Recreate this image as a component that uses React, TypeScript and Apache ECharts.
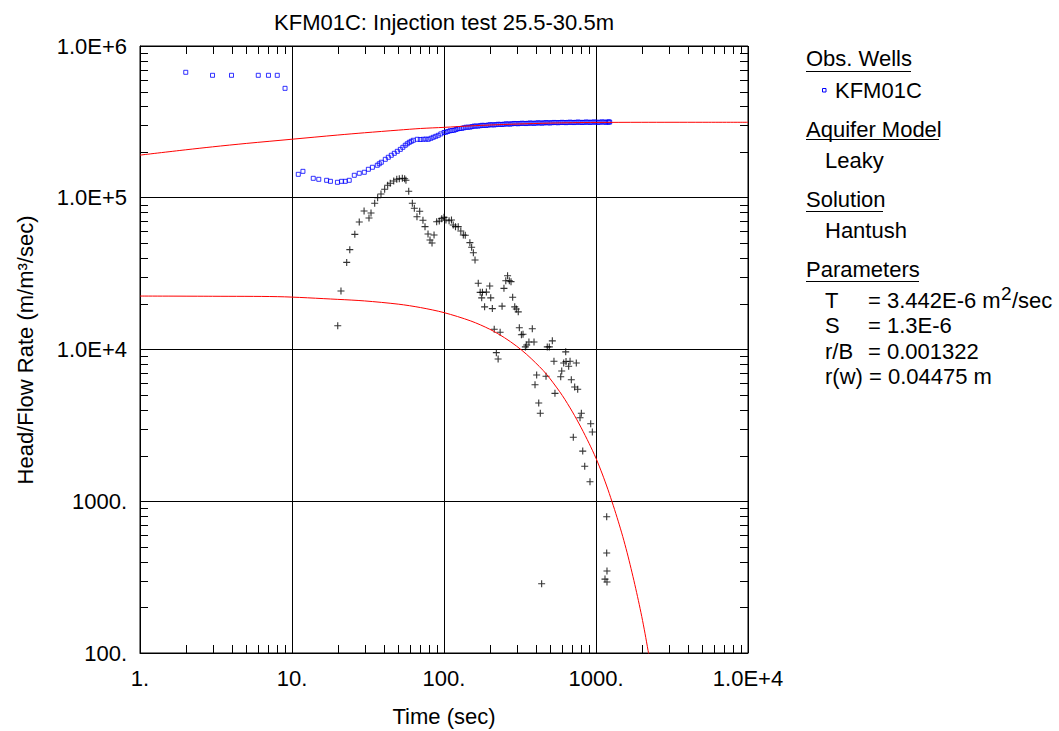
import React, { useEffect, useRef } from "react";
import * as echarts from "echarts";

const TITLE = "KFM01C: Injection test 25.5-30.5m";
const X_NAME = "Time (sec)";
const Y_NAME = "Head/Flow Rate (m/m³/sec)";
const X_MIN = 1;
const X_MAX = 10000;
const Y_MIN = 100;
const Y_MAX = 1000000;
// labels indexed by decade exponent
const X_TICK_LABELS: Record<number, string> = { 0: "1.", 1: "10.", 2: "100.", 3: "1000.", 4: "1.0E+4" };
const Y_TICK_LABELS: Record<number, string> = { 2: "100.", 3: "1000.", 4: "1.0E+4", 5: "1.0E+5", 6: "1.0E+6" };
const X_MINOR = [2, 3, 4, 5, 6, 7, 8, 9, 20, 30, 40, 50, 60, 70, 80, 90, 200, 300, 400, 500, 600, 700, 800, 900, 2000, 3000, 4000, 5000, 6000, 7000, 8000, 9000];
const Y_MINOR = [200, 300, 400, 500, 600, 700, 800, 900, 2000, 3000, 4000, 5000, 6000, 7000, 8000, 9000, 20000, 30000, 40000, 50000, 60000, 70000, 80000, 90000, 200000, 300000, 400000, 500000, 600000, 700000, 800000, 900000];

// Observed head/flow rate (blue squares)
const obsPoints: [number, number][] = [
  [2, 671000], [3, 641000], [4, 641000], [6, 641000], [7, 641000], [8, 641000], [9, 526000],
  [11.0, 142700], [11.8, 149300], [13.8, 134300], [15.0, 132300], [16.9, 130300], [17.9, 128300],
  [19.9, 126400], [21.2, 128300], [22.4, 128300], [23.8, 130300], [25.7, 140600], [27.7, 145000],
  [29.9, 147200], [31.8, 154000], [33.8, 158800], [36.4, 163700], [37.5, 167500], [38.7, 171400],
  [41.1, 179200], [43.0, 184800], [45.0, 190500], [47.1, 196300], [49.3, 202300], [51.6, 208400],
  [53.6, 215000], [55.6, 221700], [57.3, 226800], [59.1, 231900], [60.9, 235500], [62.8, 239200],
  [66.7, 242800], [69.8, 242000], [73.0, 242800], [75.9, 243500], [78.8, 242800], [82.0, 246500],
  [85.0, 250300], [88.3, 254000], [91.7, 257900], [95.3, 263500],
  [100, 269200], [103, 270500], [106, 273300], [109.5, 276500], [113, 277500], [116.5, 278500],
  [120, 281800], [123.5, 284900], [127, 286000], [131, 286500], [135, 289100], [139.5, 291500],
  [144, 291700], [148.5, 292000], [153, 294400], [157.5, 296500], [162, 296700], [167.5, 296600],
  [173, 298500], [178, 300100], [183, 299800], [189, 299500], [195, 301200], [201, 302800],
  [207, 302500], [213.5, 302000], [220, 303400], [227, 304900], [234, 304400], [241, 303900],
  [248, 305300], [256, 306800], [264, 306200], [272, 305700], [280, 307200], [289, 308600],
  [298, 308100], [307, 307400], [316, 308600], [326, 309800], [336, 309000], [346.5, 308300],
  [357, 309500], [368, 310800], [379, 310000], [391, 309200], [403, 310400], [415.5, 311700],
  [428, 310900], [441.5, 310200], [455, 311400], [469, 312600], [483, 311800], [498, 311100],
  [513, 312300], [529.5, 313600], [546, 312800], [563, 312000], [580, 313200], [598, 314200],
  [616, 313200], [635, 312500], [654, 313700], [674.5, 314700], [695, 313700], [717, 313000],
  [739, 314200], [762, 315200], [785, 314200], [809.5, 313200], [834, 314200], [860, 315400],
  [886, 314700], [913.5, 313700], [941, 314700], [970.5, 315700], [1000, 314700], [1031, 313700],
  [1062, 314700], [1095, 316000], [1129, 315200], [1164, 314200], [1199, 315200], [1215, 316000],
  [1230, 315200],
];

// Derivative (black crosses)
const derivPoints: [number, number][] = [
  [20.0, 14350], [21.0, 24300], [22.9, 37500], [24.0, 45500], [25.9, 57400], [27.7, 69200],
  [29.8, 81800], [32.1, 73600], [33.1, 79300], [35.0, 91900], [36.6, 100100], [38.5, 105900],
  [40.7, 113700], [42.6, 120800], [44.3, 124500], [46.7, 128900], [48.9, 132300], [50.8, 133500],
  [53.2, 134300], [55.1, 133500], [56.2, 130300], [58.6, 110300], [61.9, 91900], [63.8, 85200],
  [66.4, 75000], [69.2, 81400], [72.7, 71000], [75.0, 64500], [78.5, 57700], [80.9, 52700],
  [83.4, 50300], [86.0, 56800], [89.5, 69500], [93.1, 70300], [96.6, 72800], [100, 74300],
  [103, 71400], [108, 70600], [112, 71400], [115, 66100], [119, 64500], [124, 64500],
  [129, 60400], [134, 56800], [138, 56600], [148, 50600], [152, 47200], [156, 43400],
  [160, 38900], [168, 27300], [173, 23800], [177, 21900], [179, 23800], [185, 19100],
  [190, 23900], [200, 26200], [203, 21900], [208, 18600], [214, 13600], [221, 9530],
  [227, 8660], [234, 13000], [241, 19300], [248, 25300], [255, 28400], [262, 30600],
  [269, 28400], [276, 28000], [283, 22100], [292, 19100], [299, 18500], [308, 17700],
  [313, 13900], [323, 12500], [331, 12600], [343, 10400], [350, 10700], [362, 11200],
  [381, 13700], [391, 11200], [397, 5860], [407, 6790], [420, 4440], [430, 3800],
  [439, 286], [469, 6660], [478, 10400], [493, 10400], [516, 11400], [529, 8360],
  [537, 5140], [586, 6620], [595, 7220], [613, 8150], [632, 9650], [635, 8330],
  [661, 7750], [675, 8360], [688, 6320], [709, 2640], [724, 5660], [742, 8150],
  [758, 5470], [785, 3550], [801, 3800], [818, 2140], [843, 1700], [913, 1345],
  [923, 3240], [946, 2860], [1146, 307], [1176, 791], [1176, 456], [1181, 347], [1181, 294],
];

// Hantush type curve (upper red)
const fitCurve: [number, number][] = [
  [1, 191000], [2, 207000], [3, 216500], [5, 228000], [10, 243000], [20, 259000], [30, 268000],
  [50, 279000], [70, 286000], [100, 291000], [150, 297500], [200, 301500], [300, 306000],
  [500, 310500], [700, 312500], [1000, 313500], [2000, 314200], [5000, 314300], [10000, 314300],
];

// Hantush derivative curve (lower red)
const fitDerivCurve: [number, number][] = [
  [1, 22500], [3, 22430], [8, 22300], [20, 21400], [30, 20900], [50, 19900], [70, 18900],
  [100, 17500], [150, 15420], [200, 13600], [250, 11960], [300, 10530], [350, 9280],
  [400, 8180], [450, 7260], [500, 6400], [600, 4980], [700, 3880], [800, 3045], [900, 2410],
  [1000, 1920], [1100, 1512], [1200, 1190], [1300, 935], [1400, 739], [1500, 585], [1600, 461],
  [1700, 361], [1800, 283], [1900, 222], [2000, 174], [2100, 135], [2200, 104], [2300, 81],
];

const PARAM_NAMES = ["T", "S", "r/B"];
const PARAM_VALUES = ["= 3.442E-6 m", "= 1.3E-6", "= 0.001322"];
const PARAM_LAST = "r(w) = 0.04475 m";

const FONT = '"Liberation Sans", Arial, Helvetica, sans-serif';
const FS = 22;
const TL = 8;
const GRID = { left: 140, top: 46, width: 608, height: 607 };

function txt(x: number, y: number, s: string, opts: any = {}) {
  const align = opts.align || "left";
  return {
    type: "text",
    x,
    y,
    rotation: opts.rotation || 0,
    silent: true,
    style: {
      text: s,
      fontSize: opts.size || FS,
      fontFamily: FONT,
      fill: "#000",
      align,
      textAlign: align,
      verticalAlign: "middle",
      textVerticalAlign: "middle",
    },
  };
}

function seg(x1: number, y1: number, x2: number, y2: number) {
  return {
    type: "line",
    silent: true,
    z: 100,
    shape: { x1, y1, x2, y2 },
    style: { stroke: "#000", lineWidth: 1 },
  };
}

function legendGraphics() {
  const g: any[] = [
    txt(444, 22.4, TITLE, { align: "center" }),
    txt(444, 716, X_NAME, { align: "center" }),
    txt(25, 350, Y_NAME, { align: "center", rotation: Math.PI / 2 }),
    txt(806, 58.4, "Obs. Wells"),
    seg(806, 71.5, 911, 71.5),
    {
      type: "rect",
      silent: true,
      shape: { x: 822.5, y: 88.5, width: 3.5, height: 3.5 },
      style: { fill: "none", stroke: "#0000ff", lineWidth: 1 },
    },
    txt(835, 90.7, "KFM01C"),
    txt(806, 129.1, "Aquifer Model"),
    seg(806, 139.5, 939, 139.5),
    txt(825, 160.7, "Leaky"),
    txt(806, 199.1, "Solution"),
    seg(806, 211.5, 883, 211.5),
    txt(825, 230.7, "Hantush"),
    txt(806, 269.1, "Parameters"),
    seg(806, 281.5, 919, 281.5),
  ];
  const rowY = [300.7, 325.7, 351.4];
  PARAM_NAMES.forEach((n, i) => {
    g.push(txt(825, rowY[i], n));
    g.push(txt(868, rowY[i], PARAM_VALUES[i]));
  });
  g.push(txt(1001, 293.4, "2", { size: 19 }));
  g.push(txt(1012, 300.7, "/sec"));
  g.push(txt(825, 376.4, PARAM_LAST));
  return g;
}

function buildOption() {
  return {
    animation: false,
    backgroundColor: "#fff",
    textStyle: { fontFamily: FONT },
    grid: {
      ...GRID,
      show: true,
      borderColor: "#000",
      borderWidth: 1,
      backgroundColor: "rgba(0,0,0,0)",
      containLabel: false,
    },
    xAxis: {
      type: "log",
      logBase: 10,
      min: X_MIN,
      max: X_MAX,
      axisLine: { show: true, lineStyle: { color: "#000", width: 1 } },
      axisTick: { show: false },
      splitLine: { show: true, lineStyle: { color: "#000", width: 1 } },
      axisLabel: {
        color: "#000",
        fontSize: FS,
        fontFamily: FONT,
        margin: 14,
        formatter: (v: number) => X_TICK_LABELS[Math.round(Math.log10(v))] ?? "",
      },
    },
    yAxis: {
      type: "log",
      logBase: 10,
      min: Y_MIN,
      max: Y_MAX,
      axisLine: { show: true, lineStyle: { color: "#000", width: 1 } },
      axisTick: { show: false },
      splitLine: { show: true, lineStyle: { color: "#000", width: 1 } },
      axisLabel: {
        color: "#000",
        fontSize: FS,
        fontFamily: FONT,
        margin: 13,
        formatter: (v: number) => Y_TICK_LABELS[Math.round(Math.log10(v))] ?? "",
      },
    },
    series: [
      {
        type: "scatter",
        name: "KFM01C",
        data: obsPoints,
        symbol: "rect",
        symbolSize: 4,
        z: 3,
        itemStyle: { color: "rgba(0,0,0,0)", borderColor: "#0000ff", borderWidth: 1 },
      },
      {
        type: "scatter",
        name: "derivative",
        data: derivPoints,
        symbol: "path://M0 5 L10 5 M5 0 L5 10",
        symbolSize: 7,
        z: 3,
        itemStyle: { color: "rgba(0,0,0,0)", borderColor: "#000", borderWidth: 1.1 },
      },
      {
        type: "line",
        name: "fit",
        data: fitCurve,
        showSymbol: false,
        smooth: 0.3,
        z: 4,
        lineStyle: { color: "#ff0000", width: 1 },
      },
      {
        type: "line",
        name: "fitDeriv",
        data: fitDerivCurve,
        showSymbol: false,
        smooth: 0.3,
        z: 4,
        lineStyle: { color: "#ff0000", width: 1 },
      },
    ],
  };
}

export default function App() {
  const ref = useRef<HTMLDivElement>(null);
  useEffect(() => {
    if (!ref.current) return;
    const chart = echarts.init(ref.current, null, { renderer: "svg" });
    chart.setOption(buildOption() as any);

    // inward minor ticks on all four sides, placed through the chart's own log axes
    const bottom = GRID.top + GRID.height;
    const top = GRID.top;
    const left = GRID.left;
    const right = GRID.left + GRID.width;
    const num = (p: any, i: number) => (Array.isArray(p) ? p[i] : p);
    const convX = (v: number) => num(chart.convertToPixel({ xAxisIndex: 0 }, v), 0);
    const convY = (v: number) => num(chart.convertToPixel({ yAxisIndex: 0 }, v), 1);
    const ticks: any[] = [];
    X_MINOR.forEach((v) => {
      const xp = convX(v);
      if (typeof xp !== "number" || !isFinite(xp)) return;
      const x = Math.round(xp) + 0.5;
      ticks.push(seg(x, bottom, x, bottom - TL));
      ticks.push(seg(x, top, x, top + TL));
    });
    Y_MINOR.forEach((v) => {
      const yp = convY(v);
      if (typeof yp !== "number" || !isFinite(yp)) return;
      const y = Math.round(yp) + 0.5;
      ticks.push(seg(left, y, left + TL, y));
      ticks.push(seg(right, y, right - TL, y));
    });
    chart.setOption({ graphic: { elements: [...legendGraphics(), ...ticks] } } as any);
    return () => chart.dispose();
  }, []);
  return (
    <div
      ref={ref}
      style={{ position: "fixed", left: 0, top: 0, width: 1059, height: 731, background: "#fff" }}
    />
  );
}
